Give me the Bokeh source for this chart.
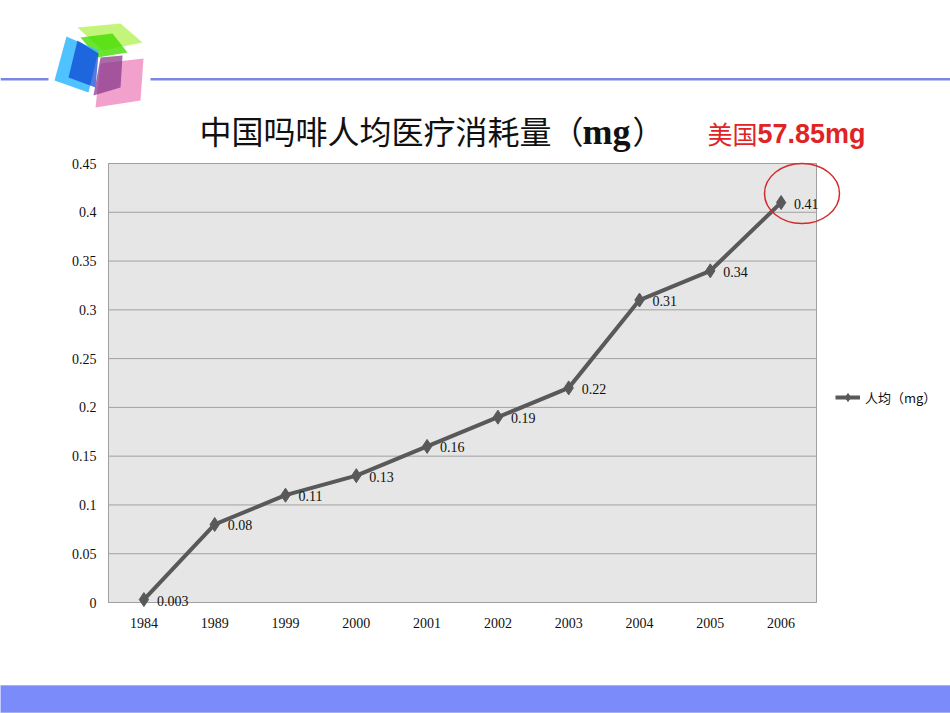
import numpy as np
from bokeh.plotting import figure
from bokeh.models import (Range1d, FixedTicker, ColumnDataSource, LinearAxis)
from bokeh.core.properties import value
from bokeh.embed import file_html
from bokeh.resources import INLINE

years = ["1984", "1989", "1999", "2000", "2001", "2002", "2003", "2004", "2005", "2006"]
values = [0.003, 0.08, 0.11, 0.13, 0.16, 0.19, 0.22, 0.31, 0.34, 0.41]
y_ticks = [0, 0.05, 0.1, 0.15, 0.2, 0.25, 0.3, 0.35, 0.4, 0.45]
y_tick_labels = ["0", "0.05", "0.1", "0.15", "0.2", "0.25", "0.3", "0.35", "0.4", "0.45"]
series_name = "人均（mg）"
title_main = "中国吗啡人均医疗消耗量（"
title_unit = "mg"
title_close = "）"
note_cn = "美国"
note_val = "57.85mg"

W, H = 950, 713
FL, FR, FT, FB = 108, 816, 163, 602
Y_MAX = y_ticks[-1]
N = len(years)
step = (FR - FL) / N
k = (FB - FT) / Y_MAX

# full-page figure: default ranges are page pixels (y downward)
p = figure(width=W, height=H, x_range=Range1d(0, W), y_range=Range1d(H, 0),
           x_axis_type=None, y_axis_type=None, output_backend="svg", toolbar_location=None,
           min_border=0)
p.outline_line_color = None
p.background_fill_color = "white"
p.border_fill_color = "white"
# chart ranges placed so the plot area sits at its slide position
p.extra_x_ranges = {"cx": Range1d(-FL / step, (W - FL) / step)}
p.extra_y_ranges = {"cy": Range1d(-(H - FB) / k, Y_MAX + FT / k)}

xpos = [i + 0.5 for i in range(N)]

# plot area background and grid
p.quad(left=0, right=N, bottom=0, top=Y_MAX, x_range_name="cx", y_range_name="cy",
       fill_color="#e6e6e6", line_color=None)
p.segment(x0=[0] * len(y_ticks), x1=[N] * len(y_ticks), y0=y_ticks, y1=y_ticks,
          x_range_name="cx", y_range_name="cy", line_color="#a0a0a0", line_width=1)
p.quad(left=0, right=N, bottom=0, top=Y_MAX, x_range_name="cx", y_range_name="cy",
       fill_alpha=0, line_color="#a0a0a0", line_width=1)

yax = LinearAxis(x_range_name="cx", y_range_name="cy", fixed_location=0,
                 ticker=FixedTicker(ticks=y_ticks),
                 major_label_overrides={t: s for t, s in zip(y_ticks, y_tick_labels)})
xax = LinearAxis(x_range_name="cx", y_range_name="cy", fixed_location=0,
                 ticker=FixedTicker(ticks=xpos),
                 major_label_overrides={x: s for x, s in zip(xpos, years)})
for ax in (xax, yax):
    ax.axis_line_color = None
    ax.major_tick_line_color = None
    ax.minor_tick_line_color = None
    ax.major_label_text_font = "Liberation Serif"
    ax.major_label_text_font_size = "14px"
    ax.major_label_text_color = "#111111"
yax.major_label_standoff = 6
xax.major_label_standoff = 9
p.add_layout(yax, "left")
p.add_layout(xax, "below")

src = ColumnDataSource(dict(x=xpos, y=values, t=[str(v) for v in values]))
p.line("x", "y", source=src, x_range_name="cx", y_range_name="cy",
       line_color="#595959", line_width=4, legend_label=series_name)
p.scatter("x", "y", source=src, x_range_name="cx", y_range_name="cy", marker="diamond",
          size=14, fill_color="#595959", line_color="#595959", legend_label=series_name)
p.text("x", "y", text="t", source=src, x_range_name="cx", y_range_name="cy",
       x_offset=13, y_offset=1, text_baseline="middle", text_font=value("Liberation Serif"),
       text_font_size="14px", text_color="#111111")

leg = p.legend[0]
leg.location = (835, H - 407)
leg.border_line_color = None
leg.background_fill_alpha = 0
leg.padding = 0
leg.margin = 0
leg.glyph_width = 25
leg.glyph_height = 20
leg.label_height = 20
leg.label_standoff = 5
leg.label_text_font = "Noto Sans CJK SC"
leg.label_text_font_size = "13px"
leg.label_text_color = "#111111"

# top rule lines and bottom band (page pixels)
p.quad(left=[0, 150], right=[48, W], top=[77.5, 77.5], bottom=[80, 80],
       fill_color="#7b86e2", line_color=None)
p.quad(left=0, right=W, top=685, bottom=712, fill_color="#7b8cfa",
       line_color="#a4b0fa", line_width=1)

# logo
logo = [
    ([(77, 27), (120, 23), (142, 42), (102, 50)], "#b4f25a", 0.8),
    ([(80, 37), (112, 33), (127, 52), (97, 57)], "#44dd00", 0.8),
    ([(66, 36), (98, 50), (88, 92), (54, 80)], "#3bbcff", 0.9),
    ([(77, 40), (98, 53), (95, 87), (68, 77)], "#0a3fd0", 0.7),
    ([(100, 63), (143, 58), (140, 100), (95, 107)], "#f090c4", 0.85),
    ([(100, 57), (122, 55), (120, 87), (93, 95)], "#8a3a8c", 0.75),
]
for pts, col, a in logo:
    p.patch([x for x, _ in pts], [y for _, y in pts], fill_color=col, fill_alpha=a,
            line_color=None)

# red circle around last point
p.ellipse(x=801.5, y=193, width=75, height=60, fill_alpha=0,
          line_color="#d42a2a", line_width=1.5)

# titles
p.text(x=[199], y=[129], text=[title_main], text_font=value("Noto Sans CJK SC"),
       text_font_size="32px", text_color="#111111", text_baseline="middle")
p.text(x=[582], y=[131], text=[title_unit], text_font=value("Liberation Serif"),
       text_font_style="bold", text_font_size="36px", text_color="#111111",
       text_baseline="middle")
p.text(x=[632], y=[129], text=[title_close], text_font=value("Noto Sans CJK SC"),
       text_font_size="32px", text_color="#111111", text_baseline="middle")
p.text(x=[707], y=[132], text=[note_cn], text_font=value("Noto Sans CJK SC"),
       text_font_size="25px", text_color="#e02424", text_baseline="middle")
p.text(x=[757], y=[133], text=[note_val], text_font=value("Liberation Sans"),
       text_font_style="bold", text_font_size="27px", text_color="#e02424",
       text_baseline="middle")

open("out.html", "w").write(file_html(p, INLINE))
